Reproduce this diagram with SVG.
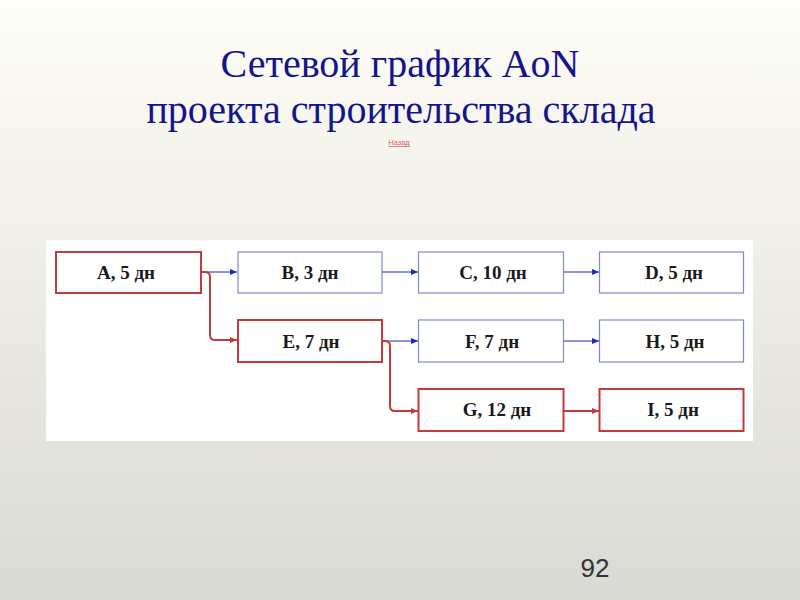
<svg xmlns="http://www.w3.org/2000/svg" width="800" height="600" viewBox="0 0 800 600">
<defs>
<linearGradient id="bg" x1="0" y1="0" x2="0" y2="1">
<stop offset="0" stop-color="#fefef8"/>
<stop offset="0.3" stop-color="#f3f2eb"/>
<stop offset="1" stop-color="#dadad4"/>
</linearGradient>
<marker id="ab" viewBox="0 0 8 8" refX="8" refY="4" markerWidth="7" markerHeight="7" markerUnits="userSpaceOnUse" orient="auto">
<path d="M0,0.5 L8,4 L0,7.5 Z" fill="#1a2abf"/>
</marker>
<marker id="ar" viewBox="0 0 8 8" refX="8" refY="4" markerWidth="7" markerHeight="7" markerUnits="userSpaceOnUse" orient="auto">
<path d="M0,0.5 L8,4 L0,7.5 Z" fill="#c43a3a"/>
</marker>
</defs>
<style>
.title{font-family:"Liberation Serif","Times New Roman",serif;font-size:40px;fill:#14148c;text-anchor:middle}
.nb{fill:#ffffff;stroke:#7d8cc6;stroke-width:1.2}
.nr{fill:#ffffff;stroke:#c43a3a;stroke-width:2}
.lbl{font-family:"Liberation Serif","Times New Roman",serif;font-size:19px;font-weight:bold;fill:#1a1a1a;text-anchor:middle}
.cb{fill:none;stroke:#1a2abf;stroke-width:1;marker-end:url(#ab)}
.cr{fill:none;stroke:#c43a3a;stroke-width:2;marker-end:url(#ar)}
</style>
<rect x="0" y="0" width="800" height="600" fill="url(#bg)"/>
<text class="title" x="400" y="77">Сетевой график AoN</text>
<text class="title" x="401" y="123">проекта строительства склада</text>
<text x="399" y="145" font-family="Liberation Sans,Arial,sans-serif" font-size="7.5" fill="#e06060" text-anchor="middle" text-decoration="underline">Назад</text>
<rect x="46" y="240" width="707" height="201" fill="#ffffff"/>
<g id="connectors">
<path class="cb" d="M201,272 H237"/>
<path class="cb" d="M382,272 H418"/>
<path class="cb" d="M563,272 H599"/>
<path class="cb" d="M382,341 H418"/>
<path class="cb" d="M563,341 H599"/>
<path class="cr" d="M201,272 H205 Q210,272 210,277 V335 Q210,340 215,340 H237"/>
<path class="cr" d="M382,341 H385 Q390,341 390,346 V406 Q390,411 395,411 H418"/>
<path class="cr" d="M563,411 H599"/>
</g>
<g id="A"><rect class="nr" x="56" y="252" width="145" height="41"/><text class="lbl" x="126" y="279">A, 5 дн</text></g>
<g id="B"><rect class="nb" x="238" y="252" width="144" height="41"/><text class="lbl" x="310" y="279">B, 3 дн</text></g>
<g id="C"><rect class="nb" x="418.5" y="252" width="145" height="41"/><text class="lbl" x="493" y="279">C, 10 дн</text></g>
<g id="D"><rect class="nb" x="599.5" y="252" width="144" height="41"/><text class="lbl" x="674" y="279">D, 5 дн</text></g>
<g id="E"><rect class="nr" x="238" y="320" width="144" height="42"/><text class="lbl" x="311" y="348">E, 7 дн</text></g>
<g id="F"><rect class="nb" x="418.5" y="320" width="145" height="42"/><text class="lbl" x="492" y="348">F, 7 дн</text></g>
<g id="H"><rect class="nb" x="599.5" y="320" width="144" height="42"/><text class="lbl" x="675" y="348">H, 5 дн</text></g>
<g id="G"><rect class="nr" x="418.5" y="389" width="145" height="42"/><text class="lbl" x="497" y="416">G, 12 дн</text></g>
<g id="I"><rect class="nr" x="599.5" y="389" width="144" height="42"/><text class="lbl" x="673" y="416">I, 5 дн</text></g>
<text x="595" y="577" font-family="Liberation Sans,Arial,sans-serif" font-size="26" fill="#333333" text-anchor="middle">92</text>
</svg>
